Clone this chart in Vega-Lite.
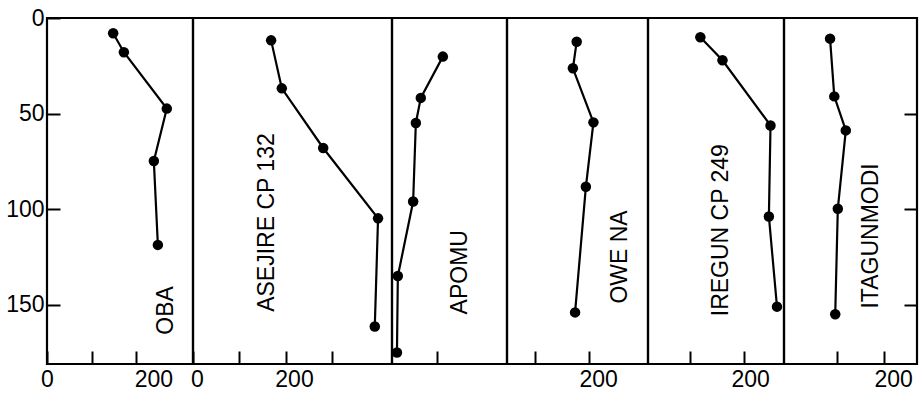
{
  "$schema": "https://vega.github.io/schema/vega-lite/v6.json",
  "background": "white",
  "padding": {"left": 4, "top": 5, "right": 4, "bottom": 4},
  "datasets": {
    "profiles": [
      {"station": "OBA", "value": 148, "depth": 8},
      {"station": "OBA", "value": 172, "depth": 17.9},
      {"station": "OBA", "value": 268, "depth": 47.4},
      {"station": "OBA", "value": 239, "depth": 74.8},
      {"station": "OBA", "value": 248, "depth": 118.7},
      {"station": "ASEJIRE", "value": 168, "depth": 11.7},
      {"station": "ASEJIRE", "value": 191, "depth": 36.8},
      {"station": "ASEJIRE", "value": 280, "depth": 68},
      {"station": "ASEJIRE", "value": 398, "depth": 104.8},
      {"station": "ASEJIRE", "value": 391, "depth": 161.4},
      {"station": "APOMU", "value": 113, "depth": 20.2},
      {"station": "APOMU", "value": 64, "depth": 41.8},
      {"station": "APOMU", "value": 53, "depth": 54.9},
      {"station": "APOMU", "value": 47, "depth": 96},
      {"station": "APOMU", "value": 13, "depth": 135},
      {"station": "APOMU", "value": 11, "depth": 175},
      {"station": "OWENA", "value": 177, "depth": 12.4},
      {"station": "OWENA", "value": 170, "depth": 26.3},
      {"station": "OWENA", "value": 208, "depth": 54.6},
      {"station": "OWENA", "value": 194, "depth": 88.3},
      {"station": "OWENA", "value": 174, "depth": 154},
      {"station": "IREGUN", "value": 119, "depth": 10.1},
      {"station": "IREGUN", "value": 160, "depth": 22.1},
      {"station": "IREGUN", "value": 249, "depth": 56.2},
      {"station": "IREGUN", "value": 246, "depth": 103.8},
      {"station": "IREGUN", "value": 261, "depth": 151},
      {"station": "ITAGUNMODI", "value": 85, "depth": 10.8},
      {"station": "ITAGUNMODI", "value": 94, "depth": 41},
      {"station": "ITAGUNMODI", "value": 118.5, "depth": 58.8},
      {"station": "ITAGUNMODI", "value": 101.5, "depth": 99.8},
      {"station": "ITAGUNMODI", "value": 96, "depth": 155}
    ]
  },
  "config": {
    "view": {"stroke": "black", "strokeWidth": 2.2},
    "axis": {
      "domain": false, "grid": false, "title": null, "labelFlush": false,
      "tickColor": "black", "tickWidth": 2, "tickSize": -13,
      "labelColor": "black", "labelFont": "Liberation Sans", "labelFontSize": 23
    },
    "text": {"font": "Liberation Sans", "fontSize": 23, "color": "black", "angle": 270, "align": "center", "baseline": "middle"},
    "line": {"color": "black", "strokeWidth": 2.2}
  },
  "hconcat": [
    {
      "width": 146, "height": 346,
      "layer": [
        {
          "data": {"name": "profiles"},
          "transform": [{"filter": "datum.station == 'OBA'"}],
          "mark": {"type": "line", "point": {"filled": true, "size": 110, "color": "black"}},
          "encoding": {
            "x": {"field": "value", "type": "quantitative", "scale": {"domain": [0, 326.6], "nice": false, "zero": false},
              "axis": {"values": [0, 100, 200], "labelExpr": "datum.value == 100 ? '' : datum.label", "labelPadding": 17,
                "labelOffset": {"condition": {"test": "datum.value == 200", "value": 17}, "value": 0}}},
            "y": {"field": "depth", "type": "quantitative", "scale": {"domain": [0, 181], "reverse": true, "nice": false, "zero": false},
              "axis": {"orient": "left", "values": [0, 50, 100, 150], "labelPadding": 16}},
            "order": {"field": "depth"}
          }
        },
        {
          "data": {"values": [{"label": "OBA"}]},
          "mark": {"type": "text"},
          "encoding": {"x": {"datum": 266}, "y": {"datum": 153}, "text": {"field": "label"}}
        }
      ]
    },
    {
      "width": 199, "height": 346,
      "layer": [
        {
          "data": {"name": "profiles"},
          "transform": [{"filter": "datum.station == 'ASEJIRE'"}],
          "mark": {"type": "line", "point": {"filled": true, "size": 110, "color": "black"}},
          "encoding": {
            "x": {"field": "value", "type": "quantitative", "scale": {"domain": [0, 428], "nice": false, "zero": false},
              "axis": {"values": [0, 100, 200, 300], "labelExpr": "datum.value == 0 || datum.value == 200 ? datum.label : ''", "labelPadding": 17,
                "labelOffset": {"condition": {"test": "datum.value == 200", "value": 8}, "value": 4}}},
            "y": {"field": "depth", "type": "quantitative", "scale": {"domain": [0, 181], "reverse": true, "nice": false, "zero": false}, "axis": null},
            "order": {"field": "depth"}
          }
        },
        {
          "data": {"values": [{"label": "ASEJIRE  CP  132"}]},
          "mark": {"type": "text"},
          "encoding": {"x": {"datum": 159}, "y": {"datum": 107}, "text": {"field": "label"}}
        }
      ]
    },
    {
      "width": 115, "height": 346,
      "layer": [
        {
          "data": {"name": "profiles"},
          "transform": [{"filter": "datum.station == 'APOMU'"}],
          "mark": {"type": "line", "point": {"filled": true, "size": 110, "color": "black"}},
          "encoding": {
            "x": {"field": "value", "type": "quantitative", "scale": {"domain": [0, 255.6], "nice": false, "zero": false},
              "axis": {"values": [100], "labels": false}},
            "y": {"field": "depth", "type": "quantitative", "scale": {"domain": [0, 181], "reverse": true, "nice": false, "zero": false}, "axis": null},
            "order": {"field": "depth"}
          }
        },
        {
          "data": {"values": [{"label": "APOMU"}]},
          "mark": {"type": "text"},
          "encoding": {"x": {"datum": 151}, "y": {"datum": 133}, "text": {"field": "label"}}
        }
      ]
    },
    {
      "width": 141, "height": 346,
      "layer": [
        {
          "data": {"name": "profiles"},
          "transform": [{"filter": "datum.station == 'OWENA'"}],
          "mark": {"type": "line", "point": {"filled": true, "size": 110, "color": "black"}},
          "encoding": {
            "x": {"field": "value", "type": "quantitative", "scale": {"domain": [48, 309], "nice": false, "zero": false},
              "axis": {"values": [100, 200], "labelExpr": "datum.value == 200 ? datum.label : ''", "labelPadding": 17, "labelOffset": 9}},
            "y": {"field": "depth", "type": "quantitative", "scale": {"domain": [0, 181], "reverse": true, "nice": false, "zero": false}, "axis": null},
            "order": {"field": "depth"}
          }
        },
        {
          "data": {"values": [{"label": "OWE NA"}]},
          "mark": {"type": "text"},
          "encoding": {"x": {"datum": 257}, "y": {"datum": 125}, "text": {"field": "label"}}
        }
      ]
    },
    {
      "width": 136, "height": 346,
      "layer": [
        {
          "data": {"name": "profiles"},
          "transform": [{"filter": "datum.station == 'IREGUN'"}],
          "mark": {"type": "line", "point": {"filled": true, "size": 110, "color": "black"}},
          "encoding": {
            "x": {"field": "value", "type": "quantitative", "scale": {"domain": [22, 274], "nice": false, "zero": false},
              "axis": {"values": [100, 200], "labelExpr": "datum.value == 200 ? datum.label : ''", "labelPadding": 17, "labelOffset": 6}},
            "y": {"field": "depth", "type": "quantitative", "scale": {"domain": [0, 181], "reverse": true, "nice": false, "zero": false}, "axis": null},
            "order": {"field": "depth"}
          }
        },
        {
          "data": {"values": [{"label": "IREGUN  CP  249"}]},
          "mark": {"type": "text"},
          "encoding": {"x": {"datum": 157}, "y": {"datum": 111}, "text": {"field": "label"}}
        }
      ]
    },
    {
      "width": 133, "height": 346,
      "layer": [
        {
          "data": {"name": "profiles"},
          "transform": [{"filter": "datum.station == 'ITAGUNMODI'"}],
          "mark": {"type": "line", "point": {"filled": true, "size": 110, "color": "black"}},
          "encoding": {
            "x": {"field": "value", "type": "quantitative", "scale": {"domain": [-13, 270], "nice": false, "zero": false},
              "axis": {"values": [100, 200], "labelExpr": "datum.value == 200 ? datum.label : ''", "labelPadding": 17, "labelOffset": 9}},
            "y": {"field": "depth", "type": "quantitative", "scale": {"domain": [0, 181], "reverse": true, "nice": false, "zero": false},
              "axis": {"orient": "right", "values": [50, 100, 150], "labels": false}},
            "order": {"field": "depth"}
          }
        },
        {
          "data": {"values": [{"label": "ITAGUNMODI"}]},
          "mark": {"type": "text"},
          "encoding": {"x": {"datum": 172}, "y": {"datum": 114}, "text": {"field": "label"}}
        }
      ]
    }
  ],
  "spacing": 0,
  "bounds": "flush"
}
